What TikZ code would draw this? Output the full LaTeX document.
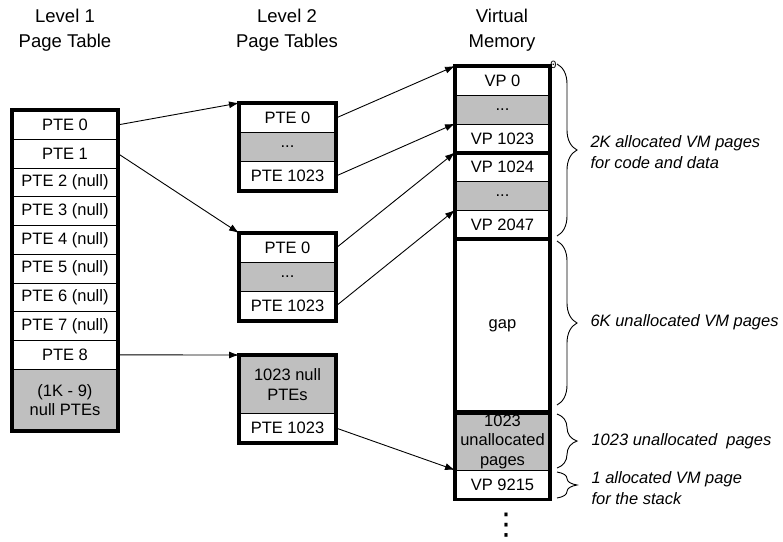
\documentclass[tikz,border=0pt]{standalone}
\usepackage{fontspec}
\setmainfont{Liberation Sans}
\newfontfamily\monofnt{Liberation Mono}
\newfontfamily\symfnt{DejaVu Sans}
\usetikzlibrary{arrows.meta,decorations.pathreplacing}
\begin{document}
\begin{tikzpicture}[x=1pt,y=-1pt,
  cell/.style={draw, line width=1pt, inner sep=0pt, anchor=north west, align=center,
    font=\fontsize{16.5}{19.5}\selectfont},
  l1/.style={cell, minimum width=105pt, minimum height=28.75pt},
  l2/.style={cell, minimum width=96pt, minimum height=29pt},
  vm/.style={cell, minimum width=94pt, minimum height=28.8pt},
  shade/.style={fill=black!25},
  outline/.style={draw, line width=3.2pt},
  arr/.style={line width=0.9pt, -{Latex[length=10pt,width=7pt]}},
  hdr/.style={align=center, font=\fontsize{18.5}{25}\selectfont},
  note/.style={anchor=west, align=left, font=\fontsize{16.5}{21}\selectfont\itshape},
  brc/.style={line width=0.9pt, decorate, decoration={brace, amplitude=20pt}}
]
\useasboundingbox (0,0) rectangle (783,541);

% headers
\node[hdr] (h1) at (65,30.5) {Level 1\\Page Table};
\node[hdr] (h2) at (287,30.5) {Level 2\\Page Tables};
\node[hdr] (h3) at (502,30.5) {Virtual\\Memory};

% Level 1 page table
\node[l1] (a0) at (12,110) {PTE 0};
\node[l1] (a1) at (12,138.75) {PTE 1};
\node[l1] (a2) at (12,167.5) {PTE 2 (null)};
\node[l1] (a3) at (12,196.25) {PTE 3 (null)};
\node[l1] (a4) at (12,225) {PTE 4 (null)};
\node[l1] (a5) at (12,253.75) {PTE 5 (null)};
\node[l1] (a6) at (12,282.5) {PTE 6 (null)};
\node[l1] (a7) at (12,311.25) {PTE 7 (null)};
\node[l1] (a8) at (12,340) {PTE 8};
\node[l1, shade, minimum height=61.25pt] (a9) at (12,368.75) {(1K - 9)\\null PTEs};
\draw[outline] (a0.north west) rectangle (a9.south east);

% Level 2 table 1
\node[l2] (b0) at (239,103) {PTE 0};
\node[l2, shade] (b1) at (239,132) {...};
\node[l2] (b2) at (239,161) {PTE 1023};
\draw[outline] (b0.north west) rectangle (b2.south east);

% Level 2 table 2
\node[l2] (c0) at (239,233) {PTE 0};
\node[l2, shade] (c1) at (239,262) {...};
\node[l2] (c2) at (239,291) {PTE 1023};
\draw[outline] (c0.north west) rectangle (c2.south east);

% Level 2 table 3
\node[l2, shade, minimum height=58pt] (d0) at (239,355) {1023 null\\PTEs};
\node[l2] (d1) at (239,413) {PTE 1023};
\draw[outline] (d0.north west) rectangle (d1.south east);

% Virtual memory
\node[vm] (v0) at (455,66) {VP 0};
\node[vm, shade] (v1) at (455,94.8) {...};
\node[vm] (v2) at (455,123.6) {VP 1023};
\node[vm] (v3) at (455,152.4) {VP 1024};
\node[vm, shade] (v4) at (455,181.2) {...};
\node[vm] (v5) at (455,210) {VP 2047};
\node[vm, minimum height=173.2pt] (v6) at (455,238.8) {gap};
\node[vm, shade, minimum height=58pt] (v7) at (455,412) {1023\\unallocated\\pages};
\node[vm] (v8) at (455,470) {VP 9215};
\draw[outline] (v0.north west) rectangle (v2.south east);
\draw[outline] (v3.north west) rectangle (v5.south east);
\draw[outline] (v6.north west) rectangle (v6.south east);
\draw[outline] (v7.north west) rectangle (v8.south east);
\node[font=\monofnt\fontsize{11}{11}\selectfont, inner sep=0pt] (zero) at (553.5,65) {0};

% vertical ellipsis below memory
\node[font=\symfnt\fontsize{30}{30}\selectfont, inner sep=0pt] (dots) at (506,525) {⋮};

% arrows
\draw[arr] (a0.east) -- (b0.north west);
\draw[arr] (a1.east) -- (c0.north west);
\draw[arr] (a8.east) -- (d0.north west);
\draw[arr] (b0.east) -- (v0.north west);
\draw[arr] (b2.east) -- (v2.north west);
\draw[arr] (c0.east) -- (v3.north west);
\draw[arr] (c2.east) -- (v5.north west);
\draw[arr] (d1.east) -- (v8.north west);

% braces and notes
\coordinate (br1s) at (557,64);   \coordinate (br1e) at (557,236);
\coordinate (br2s) at (557,241);  \coordinate (br2e) at (557,405);
\coordinate (br3s) at (557,414);  \coordinate (br3e) at (557,468);
\coordinate (br4s) at (557,472);  \coordinate (br4e) at (557,498);
\draw[brc] (br1s) -- (br1e);
\draw[brc] (br2s) -- (br2e);
\draw[brc] (br3s) -- (br3e);
\draw[brc] (br4s) -- (br4e);
\node[note] (n1) at (587,152.5) {2K allocated VM pages\\for code and data};
\node[note] (n2) at (587,322) {6K unallocated VM pages};
\node[note] (n3) at (588,441) {1023 unallocated\ \ pages};
\node[note] (n4) at (588,488.5) {1 allocated VM page\\for the stack};
\end{tikzpicture}
\end{document}
